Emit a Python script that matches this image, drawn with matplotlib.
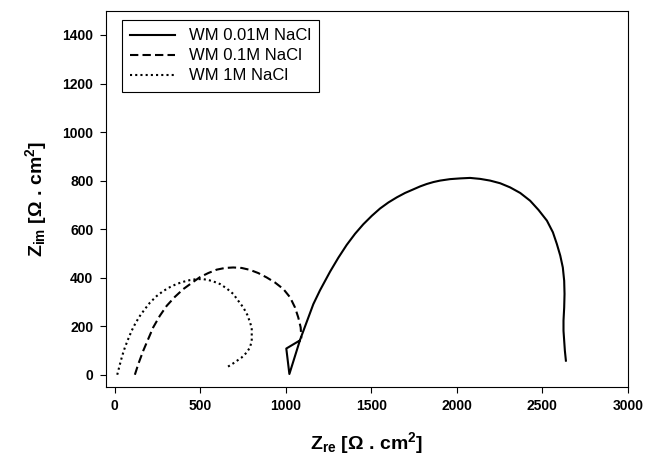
import matplotlib
matplotlib.use("Agg")
import matplotlib.pyplot as plt

# Nyquist data (Z_re, Z_im in ohm.cm2)
zre_001 = [1080, 1004, 1022, 1085, 1104, 1133, 1162, 1201, 1260, 1308, 1357, 1406,
           1454, 1504, 1552, 1601, 1650, 1698, 1747, 1786, 1825, 1864, 1903, 1961,
           2020, 2078, 2137, 2195, 2254, 2312, 2371, 2429, 2478, 2527, 2562, 2585,
           2605, 2620, 2628, 2630, 2628, 2624, 2624, 2628, 2632, 2638]
zim_001 = [140, 108, 3, 145, 181, 236, 291, 348, 425, 482, 535, 581,
           620, 655, 685, 710, 731, 749, 764, 776, 786, 794, 800, 806,
           809, 811, 807, 800, 789, 772, 749, 717, 679, 635, 587, 539,
           491, 442, 387, 333, 277, 223, 181, 140, 99, 58]

zre_01 = [119, 139, 168, 197, 226, 265, 305, 353, 402, 451, 499, 548, 597, 646,
          694, 743, 792, 840, 889, 938, 987, 1026, 1055, 1074, 1088, 1092]
zim_01 = [0, 44, 99, 147, 195, 243, 284, 321, 353, 378, 402, 419, 433, 440,
          442, 440, 432, 419, 401, 380, 353, 319, 277, 236, 195, 150]

zre_1 = [16, 32, 45, 61, 80, 100, 123, 149, 178, 207, 246, 285, 324, 363, 402,
         441, 480, 519, 568, 616, 655, 694, 723, 753, 776, 792, 802, 802, 802,
         792, 773, 743, 694, 651]
zim_1 = [0, 44, 78, 113, 147, 181, 213, 243, 271, 297, 324, 345, 361, 374, 383,
         390, 394, 394, 387, 374, 356, 333, 305, 277, 247, 216, 192, 168, 140,
         113, 92, 71, 47, 28]

labels = ["WM 0.01M NaCl", "WM 0.1M NaCl", "WM 1M NaCl"]
xticks = [0, 500, 1000, 1500, 2000, 2500, 3000]
yticks = [0, 200, 400, 600, 800, 1000, 1200, 1400]

plt.rcParams["font.family"] = ["Liberation Sans", "DejaVu Sans"]
plt.rcParams["mathtext.fontset"] = "custom"
plt.rcParams["mathtext.rm"] = "Liberation Sans:bold"
plt.rcParams["mathtext.it"] = "Liberation Sans:bold"
plt.rcParams["mathtext.bf"] = "Liberation Sans:bold"

fig = plt.figure(figsize=(6.54, 4.65), dpi=100)
ax = fig.add_axes([0.162, 0.168, 0.798, 0.809])

ax.plot(zre_001, zim_001, color="black", lw=1.5, ls="-", label=labels[0])
ax.plot(zre_01, zim_01, color="black", lw=1.5, ls=(0, (4, 2)), label=labels[1])
ax.plot(zre_1, zim_1, color="black", lw=1.5, ls=(0, (1, 1.5)), label=labels[2])

ax.set_xlim(-50, 3000)
ax.set_ylim(-50, 1500)
ax.set_xticks(xticks)
ax.set_yticks(yticks)
ax.tick_params(direction="out", length=4, width=0.8, labelsize=10, pad=5)
for lab in ax.get_xticklabels() + ax.get_yticklabels():
    lab.set_fontweight("bold")
for sp in ax.spines.values():
    sp.set_linewidth(0.8)

ax.set_xlabel(r"$\mathrm{Z_{re}}$ [Ω . cm$^{\mathrm{2}}$]", fontsize=14,
              fontweight="bold", labelpad=12)
ax.set_ylabel(r"$\mathrm{Z_{im}}$ [Ω . cm$^{\mathrm{2}}$]", fontsize=14,
              fontweight="bold", labelpad=10)

leg = ax.legend(loc="upper left", bbox_to_anchor=(0.031, 0.975), borderaxespad=0,
                fontsize=12, frameon=True, fancybox=False, edgecolor="black",
                framealpha=1, handlelength=2.7, handletextpad=0.8,
                borderpad=0.5, labelspacing=0.3)
leg.get_frame().set_linewidth(0.8)

fig.savefig("out.png", dpi=100)
